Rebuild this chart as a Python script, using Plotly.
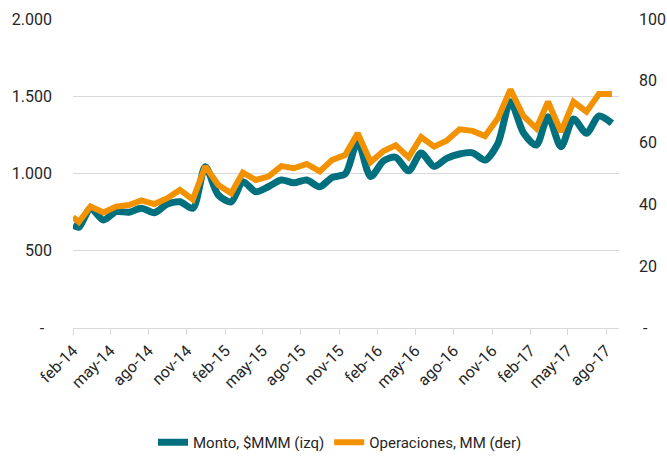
import plotly.graph_objects as go
import datetime as dt

# Fechas: primer punto al inicio de feb-14, luego un punto por mes (mitad de mes)
meses = [(2014, m) for m in range(2, 13)] + [(2015, m) for m in range(1, 13)] + \
        [(2016, m) for m in range(1, 13)] + [(2017, m) for m in range(1, 9)]
fechas = [dt.date(2014, 2, 1)] + [dt.date(y, m, 15) for (y, m) in meses]

monto = [667, 652, 775, 699, 753, 749, 775, 746, 802, 817, 775, 1044, 861, 817,
         947, 882, 914, 958, 940, 958, 914, 975, 997, 1206, 980, 1082, 1105, 1017,
         1132, 1046, 1098, 1126, 1134, 1087, 1195, 1465, 1264, 1184, 1368, 1173,
         1353, 1260, 1372, 1325]

operaciones = [35.9, 34.3, 39.3, 37.4, 39.3, 39.8, 41.3, 40.1, 42.0, 44.7, 41.6,
               52.3, 46.3, 43.6, 50.3, 47.9, 49.0, 52.4, 51.7, 53.1, 50.7, 54.4,
               56.0, 63.0, 53.7, 57.3, 59.1, 55.2, 61.8, 58.7, 60.6, 64.3, 63.8,
               62.1, 67.9, 77.2, 68.6, 64.6, 73.2, 63.5, 73.2, 70.0, 75.7, 75.7]

tick_fechas = [dt.date(2014, 2, 1), dt.date(2014, 5, 1), dt.date(2014, 8, 1), dt.date(2014, 11, 1),
               dt.date(2015, 2, 1), dt.date(2015, 5, 1), dt.date(2015, 8, 1), dt.date(2015, 11, 1),
               dt.date(2016, 2, 1), dt.date(2016, 5, 1), dt.date(2016, 8, 1), dt.date(2016, 11, 1),
               dt.date(2017, 2, 1), dt.date(2017, 5, 1), dt.date(2017, 8, 1)]
tick_labels = ["feb-14", "may-14", "ago-14", "nov-14", "feb-15", "may-15", "ago-15", "nov-15",
               "feb-16", "may-16", "ago-16", "nov-16", "feb-17", "may-17", "ago-17"]

y_left_vals = [0, 500, 1000, 1500, 2000]
y_left_text = ["-\u00a0\u00a0", "500", "1.000", "1.500", "2.000"]
y_right_vals = [0, 20, 40, 60, 80, 100]
y_right_text = ["\u00a0-", "20", "40", "60", "80", "100"]

TEAL = "#00707F"
ORANGE = "#F39200"
GRID = "#D9D9D9"
TXT = "#262626"
FONT = "Roboto"

fig = go.Figure()
fig.add_trace(go.Scatter(
    x=fechas, y=monto, name="Monto, $MMM (izq)", mode="lines",
    line=dict(color=TEAL, width=7, shape="spline", smoothing=0.8),
    yaxis="y"))
fig.add_trace(go.Scatter(
    x=fechas, y=operaciones, name="Operaciones, MM (der)", mode="lines",
    line=dict(color=ORANGE, width=6),
    yaxis="y2"))

fig.update_layout(
    width=667, height=459,
    margin=dict(l=73, r=48, t=19, b=131),
    paper_bgcolor="white", plot_bgcolor="white",
    font=dict(family=FONT, size=16, color=TXT),
    showlegend=True,
    legend=dict(orientation="h", x=0.489, xanchor="center",
                yref="container", y=-0.015, yanchor="bottom",
                font=dict(family=FONT, size=15, color=TXT), itemwidth=30,
                traceorder="normal"),
    xaxis=dict(
        type="date", automargin=False,
        range=[dt.date(2014, 2, 1), dt.date(2017, 9, 1)],
        tickmode="array", tickvals=tick_fechas, ticktext=tick_labels,
        tickangle=-45, ticks="outside", ticklen=6, tickcolor=GRID, tickwidth=1,
        showline=True, linecolor=GRID, linewidth=1,
        showgrid=False, zeroline=False,
        tickfont=dict(family=FONT, size=16, color=TXT),
    ),
    yaxis=dict(
        range=[0, 2000], tickmode="array", tickvals=y_left_vals, ticktext=y_left_text,
        showgrid=True, gridcolor=GRID, gridwidth=1, zeroline=False, showline=False,
        ticks="", ticklabelstandoff=20, automargin=False,
        tickfont=dict(family=FONT, size=16, color=TXT),
    ),
    yaxis2=dict(
        range=[0, 100], overlaying="y", side="right", automargin=False,
        tickmode="array", tickvals=y_right_vals, ticktext=y_right_text,
        showgrid=False, zeroline=False, showline=False, ticks="", ticklabelstandoff=19,
        tickfont=dict(family=FONT, size=16, color=TXT),
    ),
)

fig.write_html("out.html", config={"displayModeBar": False},
               post_script="document.body.style.margin='0';document.body.style.padding='0';")
